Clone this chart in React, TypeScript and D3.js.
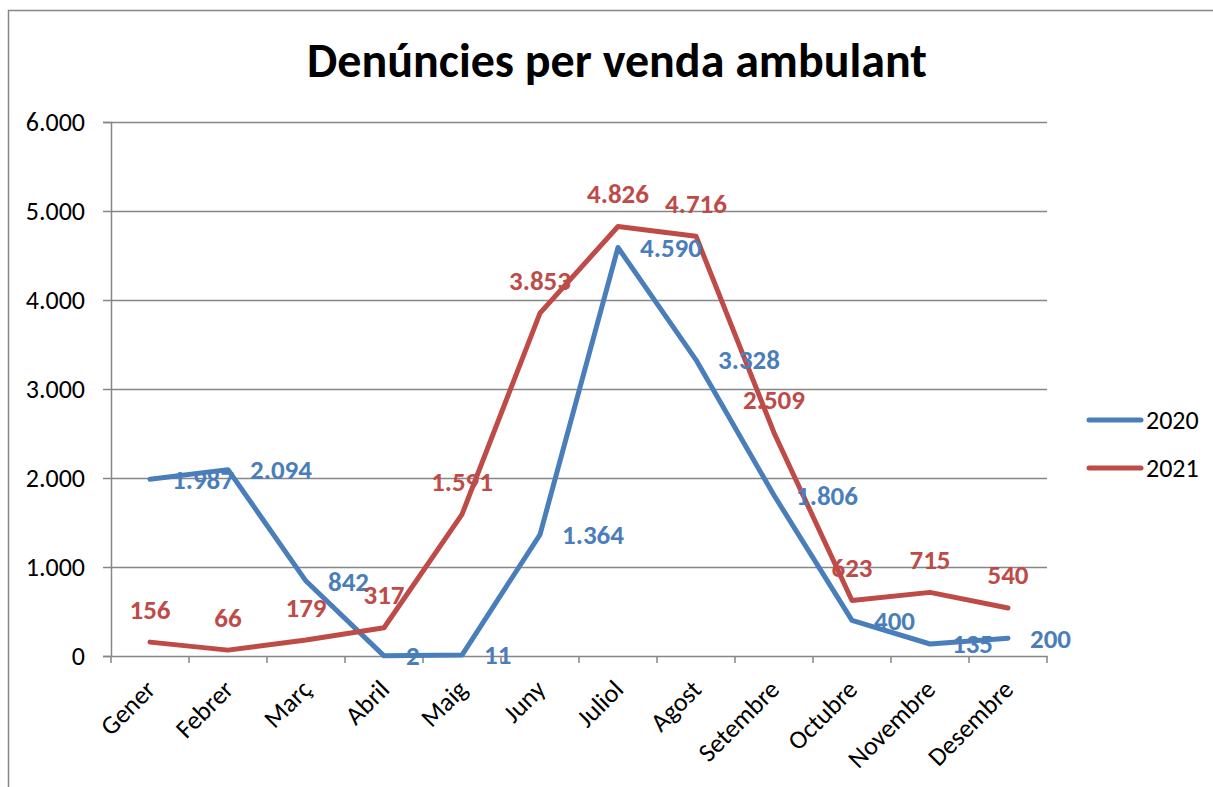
import React, { useRef, useEffect } from "react";
import * as d3 from "d3";

const months = ["Gener", "Febrer", "Març", "Abril", "Maig", "Juny", "Juliol", "Agost", "Setembre", "Octubre", "Novembre", "Desembre"];
const values2020 = [1987, 2094, 842, 2, 11, 1364, 4590, 3328, 1806, 400, 135, 200];
const values2021 = [156, 66, 179, 317, 1591, 3853, 4826, 4716, 2509, 623, 715, 540];
const yTicks = [0, 1000, 2000, 3000, 4000, 5000, 6000];
const seriesNames = ["2020", "2021"];

const FONT = "Carlito, Lato, 'Open Sans', sans-serif";
const BLUE = "#4A7EBB";
const RED = "#BE4B48";

// thousands separator with a dot, as in the source
const fmt = (v: number) => d3.format(",")(v).replace(/,/g, ".");

const App = () => {
  const svgRef = useRef<SVGSVGElement>(null);

  useEffect(() => {
    const svg = d3.select(svgRef.current);
    svg.selectAll("*").remove();

    const left = 111, right = 1047, top = 122, bottom = 656;

    const x = d3.scaleBand().domain(months).range([left, right]);
    const y = d3.scaleLinear().domain([0, 6000]).range([bottom, top]);
    const cx = (m: string) => (x(m) as number) + x.bandwidth() / 2;

    // frame
    svg.append("path")
      .attr("d", "M8.5,790 L8.5,10.5 L1220,10.5")
      .attr("fill", "none")
      .attr("stroke", "#868686")
      .attr("stroke-width", 1.5);

    // title
    svg.append("text")
      .attr("x", 617)
      .attr("y", 77)
      .attr("text-anchor", "middle")
      .style("font-family", FONT)
      .style("font-weight", "bold")
      .style("font-size", "48px")
      .text("Denúncies per venda ambulant");

    // y axis + labels
    const yAxis = svg.append("g")
      .attr("transform", `translate(${left}, 0)`)
      .call(d3.axisLeft(y).tickValues(yTicks).tickFormat((d) => fmt(d as number)).tickSize(8).tickPadding(18));
    yAxis.select(".domain").attr("stroke", "#868686").attr("stroke-width", 1.5);
    yAxis.selectAll("line").attr("stroke", "#868686").attr("stroke-width", 1.5);
    yAxis.selectAll("text")
      .style("font-family", FONT)
      .style("font-size", "26px")
      .attr("fill", "#000");

    // gridlines
    svg.append("g")
      .selectAll("line")
      .data(yTicks.filter((t) => t > 0))
      .join("line")
      .attr("x1", left)
      .attr("x2", right)
      .attr("y1", (d) => y(d) + 0.5)
      .attr("y2", (d) => y(d) + 0.5)
      .attr("stroke", "#868686")
      .attr("stroke-width", 1.5);

    // x axis
    const xAxis = svg.append("g")
      .attr("transform", `translate(0, ${bottom})`)
      .call(d3.axisBottom(x).tickSize(0).tickPadding(0));
    xAxis.select(".domain").attr("stroke", "#868686").attr("stroke-width", 1.5);
    xAxis.selectAll("text").remove();
    xAxis.selectAll(".tick line").remove();

    const bounds = months.map((m) => x(m) as number).concat([right]);
    svg.append("g")
      .selectAll("line")
      .data(bounds)
      .join("line")
      .attr("x1", (d) => d)
      .attr("x2", (d) => d)
      .attr("y1", bottom)
      .attr("y2", bottom + 7)
      .attr("stroke", "#868686")
      .attr("stroke-width", 1.5);

    svg.append("g")
      .selectAll("text")
      .data(months)
      .join("text")
      .attr("transform", (d) => `translate(${cx(d) + 7}, ${bottom + 35}) rotate(-45)`)
      .attr("text-anchor", "end")
      .style("font-family", FONT)
      .style("font-size", "26px")
      .text((d) => d);

    const line = d3.line<number>()
      .x((d, i) => cx(months[i]))
      .y((d) => y(d));

    const series = [
      { name: seriesNames[0], values: values2020, color: BLUE },
      { name: seriesNames[1], values: values2021, color: RED },
    ];

    series.forEach((s) => {
      svg.append("path")
        .datum(s.values)
        .attr("d", line)
        .attr("fill", "none")
        .attr("stroke", s.color)
        .attr("stroke-width", 5)
        .attr("stroke-linejoin", "round")
        .attr("stroke-linecap", "round");
    });

    // labels 2020: right of point
    svg.append("g")
      .selectAll("text")
      .data(values2020)
      .join("text")
      .attr("x", (d, i) => cx(months[i]) + 22)
      .attr("y", (d) => y(d))
      .attr("dy", "0.35em")
      .attr("fill", BLUE)
      .style("font-family", FONT)
      .style("font-weight", "bold")
      .style("font-size", "27px")
      .text((d) => fmt(d));

    // labels 2021: above point
    svg.append("g")
      .selectAll("text")
      .data(values2021)
      .join("text")
      .attr("x", (d, i) => cx(months[i]))
      .attr("y", (d) => y(d) - 33)
      .attr("dy", "0.35em")
      .attr("text-anchor", "middle")
      .attr("fill", RED)
      .style("font-family", FONT)
      .style("font-weight", "bold")
      .style("font-size", "27px")
      .text((d) => fmt(d));

    // legend
    const legend = svg.append("g")
      .selectAll("g")
      .data(series)
      .join("g")
      .attr("transform", (d, i) => `translate(1089, ${420 + i * 48})`);
    legend.append("line")
      .attr("x1", 0)
      .attr("x2", 52)
      .attr("stroke", (d) => d.color)
      .attr("stroke-width", 5)
      .attr("stroke-linecap", "round");
    legend.append("text")
      .attr("x", 57)
      .attr("dy", "0.35em")
      .style("font-family", FONT)
      .style("font-size", "26px")
      .text((d) => d.name);
  }, []);

  return (
    <svg
      ref={svgRef}
      width={1213}
      height={787}
      style={{ position: "absolute", left: 0, top: 0, background: "#fff" }}
    ></svg>
  );
};

export default App;
